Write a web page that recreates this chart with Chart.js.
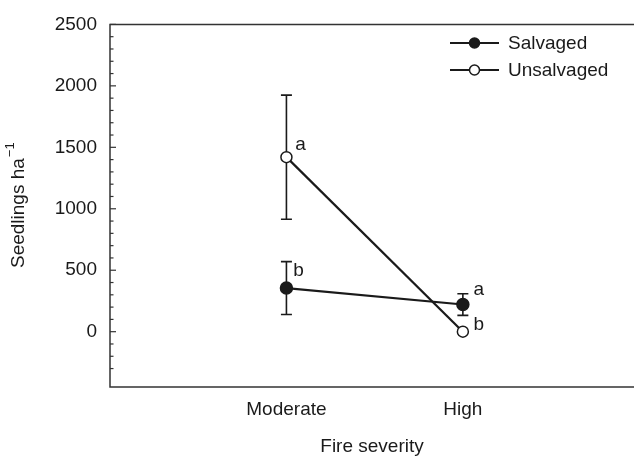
<!DOCTYPE html>
<html>
<head>
    <title>Seedlings by fire severity</title>
    <script src="https://cdn.jsdelivr.net/npm/chart.js@4.4.1/dist/chart.umd.min.js"></script>
    <style>
        body { margin: 0; overflow: hidden; background: #fff; }
    </style>
</head>
<body>
<canvas id="seedCanvas" width="634" height="456"></canvas>
<script>

// values
const categories = ['Moderate', 'High'];
const salvaged = [355, 221];
const salvagedErr = [215, 88];
const salvagedLetters = ['b', 'a'];
const unsalvaged = [1420, 0];
const unsalvagedErr = [505, 0];
const unsalvagedLetters = ['a', 'b'];
const yTickLabels = [0, 500, 1000, 1500, 2000, 2500];

const FONT = '"Liberation Sans", Arial, Helvetica, sans-serif';
const INK = '#1a1a1a';
const FS = 19;

function toPoints(values) {
    return values.map((v, i) => ({ x: i + 1, y: v }));
}

// letter offsets from the point, in pixels
const letterOffsets = {
    Salvaged: [[12, -17], [16, -15]],
    Unsalvaged: [[14, -12], [16, -7]]
};

const errorBars = {
    id: 'errorBars',
    beforeDatasetsDraw(chart) {
        const { ctx, scales: { x, y } } = chart;
        const sets = [[salvaged, salvagedErr], [unsalvaged, unsalvagedErr]];
        ctx.save();
        ctx.strokeStyle = INK;
        ctx.lineWidth = 1.6;
        sets.forEach(([vals, errs]) => {
            vals.forEach((v, i) => {
                if (!errs[i]) return;
                const px = x.getPixelForValue(i + 1);
                const top = y.getPixelForValue(v + errs[i]);
                const bot = y.getPixelForValue(v - errs[i]);
                ctx.beginPath();
                ctx.moveTo(px, top); ctx.lineTo(px, bot);
                ctx.moveTo(px - 5.5, top); ctx.lineTo(px + 5.5, top);
                ctx.moveTo(px - 5.5, bot); ctx.lineTo(px + 5.5, bot);
                ctx.stroke();
            });
        });
        ctx.restore();
    },
    afterDraw(chart) {
        const { ctx, chartArea: a, scales: { x, y } } = chart;
        ctx.save();
        // frame, open on the right like the original crop
        ctx.strokeStyle = '#333';
        ctx.lineWidth = 1.5;
        ctx.beginPath();
        ctx.moveTo(chart.width, a.top); ctx.lineTo(a.left, a.top);
        ctx.lineTo(a.left, a.bottom); ctx.lineTo(chart.width, a.bottom);
        ctx.stroke();
        // inward y ticks
        ctx.lineWidth = 1.2;
        y.ticks.forEach(t => {
            if (t.value <= y.min) return;
            const py = y.getPixelForValue(t.value);
            const len = t.value % 500 === 0 ? 6 : 3.5;
            ctx.beginPath();
            ctx.moveTo(a.left, py); ctx.lineTo(a.left + len, py);
            ctx.stroke();
        });

        // significance letters
        ctx.fillStyle = INK;
        ctx.font = FS + 'px ' + FONT;
        ctx.textAlign = 'center';
        ctx.textBaseline = 'middle';
        [['Salvaged', salvaged, salvagedLetters], ['Unsalvaged', unsalvaged, unsalvagedLetters]].forEach(([name, vals, letters]) => {
            vals.forEach((v, i) => {
                const off = letterOffsets[name][i];
                ctx.fillText(letters[i], x.getPixelForValue(i + 1) + off[0], y.getPixelForValue(v) + off[1]);
            });
        });

        // legend
        const rows = [['Salvaged', INK, 43], ['Unsalvaged', '#fff', 70]];
        ctx.textAlign = 'left';
        rows.forEach(([label, fill, ry]) => {
            ctx.strokeStyle = INK;
            ctx.lineWidth = 2;
            ctx.beginPath();
            ctx.moveTo(450, ry); ctx.lineTo(499, ry);
            ctx.stroke();
            ctx.beginPath();
            ctx.arc(474.5, ry, 5, 0, Math.PI * 2);
            ctx.fillStyle = fill;
            ctx.fill();
            ctx.lineWidth = 1.5;
            ctx.stroke();
            ctx.fillStyle = INK;
            ctx.fillText(label, 508, ry + 1);
        });

        // y title with superscript
        ctx.translate(19, (a.top + a.bottom) / 2);
        ctx.rotate(-Math.PI / 2);
        const main = 'Seedlings ha';
        ctx.font = '13px ' + FONT;
        const supW = ctx.measureText('\u22121').width;
        ctx.font = FS + 'px ' + FONT;
        const mainW = ctx.measureText(main).width;
        const start = -(mainW + supW) / 2;
        ctx.fillText(main, start, 0);
        ctx.font = '13px ' + FONT;
        ctx.fillText('\u22121', start + mainW + 1, -9);
        ctx.restore();
    }
};

new Chart(document.getElementById('seedCanvas').getContext('2d'), {
    type: 'line',
    data: {
        datasets: [{
            label: 'Salvaged',
            data: toPoints(salvaged),
            borderColor: INK,
            borderWidth: 2.2,
            pointRadius: 6,
            pointBackgroundColor: INK,
            pointBorderColor: INK,
            pointBorderWidth: 1.5
        }, {
            label: 'Unsalvaged',
            data: toPoints(unsalvaged),
            borderColor: INK,
            borderWidth: 2.2,
            pointRadius: 5.5,
            pointBackgroundColor: '#fff',
            pointBorderColor: INK,
            pointBorderWidth: 1.5
        }]
    },
    options: {
        responsive: false,
        animation: false,
        layout: { autoPadding: false, padding: { top: 16, right: 0, bottom: 0, left: 0 } },
        plugins: { legend: { display: false }, tooltip: { enabled: false } },
        scales: {
            x: {
                type: 'linear',
                min: 0,
                max: 2.97,
                afterBuildTicks: s => { s.ticks = categories.map((c, i) => ({ value: i + 1 })); },
                afterFit: s => { s.height = 69; s.paddingLeft = 0; s.paddingRight = 0; },
                grid: { display: false, drawTicks: false },
                border: { display: false },
                ticks: {
                    color: INK,
                    font: { family: FONT, size: FS },
                    padding: 11,
                    callback: v => categories[v - 1]
                },
                title: {
                    display: true,
                    text: 'Fire severity',
                    color: INK,
                    font: { family: FONT, size: FS },
                    padding: { top: 4, bottom: -2 }
                }
            },
            y: {
                min: -450,
                max: 2500,
                afterFit: s => { s.width = 110; },
                grid: { display: false, drawTicks: false },
                border: { display: false },
                ticks: {
                    stepSize: 100,
                    autoSkip: false,
                    color: INK,
                    font: { family: FONT, size: FS },
                    padding: 13,
                    callback: v => yTickLabels.includes(v) ? String(v) : ''
                }
            }
        }
    },
    plugins: [errorBars]
});

</script>
</body>
</html>
